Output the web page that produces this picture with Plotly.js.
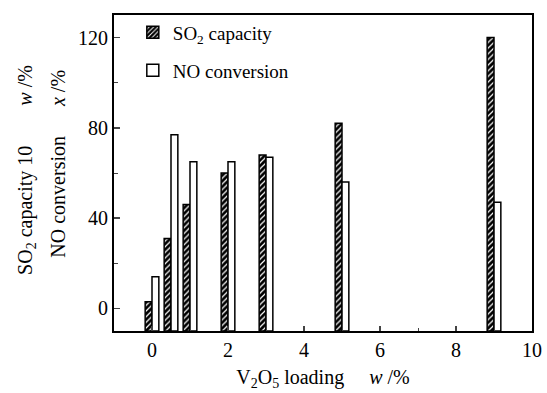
<!DOCTYPE html>
<html><head><meta charset="utf-8">
<script src="https://cdn.plot.ly/plotly-3.0.1.min.js"></script>
<style>body{margin:0;background:#fff}#c{width:547px;height:393px}</style>
</head><body><div id="c"></div>
<script>
const loading = [0, 0.5, 1, 2, 3, 5, 9];
const so2Capacity = [3, 31, 46, 60, 68, 82, 120];
const noConversion = [14, 77, 65, 65, 67, 56, 47];
const xTicks = [0, 2, 4, 6, 8, 10];
const yTicks = [0, 40, 80, 120];
const baseVal = -10;

const F = 'Liberation Serif, Times New Roman, serif';
const traces = [
  {type:'bar', x: loading, y: so2Capacity.map(v => v - baseVal), base: baseVal,
   name: 'SO<sub>2</sub> capacity', width: 0.18, offset: -0.18,
   marker: {color: 'black', line: {color: 'black', width: 1.5},
            pattern: {shape: '/', fgcolor: 'white', bgcolor: 'black', size: 4, solidity: 0.3}},
   legend: 'legend'},
  {type:'bar', x: loading, y: noConversion.map(v => v - baseVal), base: baseVal,
   name: 'NO conversion', width: 0.18, offset: 0,
   marker: {color: 'white', line: {color: 'black', width: 1.5}},
   legend: 'legend2'}
];
const layout = {
  width: 547, height: 393,
  margin: {l:114, r:15, t:15, b:62},
  paper_bgcolor: 'white', plot_bgcolor: 'white',
  font: {family: F, size: 20, color: 'black'},
  barmode: 'overlay',
  showlegend: true,
  legend: {x: 0.045, y: 1.005, xanchor: 'left', yanchor: 'top', bgcolor: 'rgba(0,0,0,0)',
           font: {family: F, size: 19}},
  legend2: {x: 0.045, y: 0.885, xanchor: 'left', yanchor: 'top', bgcolor: 'rgba(0,0,0,0)',
           font: {family: F, size: 19}},
  xaxis: {range: [-1, 10], tickvals: xTicks, ticks: 'inside', ticklen: 5, tickwidth: 1.5,
          minor: {dtick: 1, ticks: 'inside', ticklen: 3, tickwidth: 1},
          showline: true, linewidth: 2, linecolor: 'black', mirror: true,
          showgrid: false, zeroline: false, tickfont: {family: F, size: 20},
          title: {text: 'V<sub>2</sub>O<sub>5</sub> loading\u00a0\u00a0\u00a0\u00a0\u00a0<i>w</i> /%',
                  font: {family: F, size: 20}, standoff: 10}},
  yaxis: {range: [-10, 130], tickvals: yTicks, ticks: 'inside', ticklen: 6, tickwidth: 1.5,
          minor: {tickvals: [20, 60, 100], ticks: 'inside', ticklen: 4, tickwidth: 1},
          showline: true, linewidth: 2, linecolor: 'black', mirror: true,
          showgrid: false, zeroline: false, tickfont: {family: F, size: 20}},
  annotations: [
    {xref: 'paper', yref: 'paper', x: -0.208, y: 0.51, xanchor: 'center', yanchor: 'middle',
     textangle: -90, showarrow: false, font: {family: F, size: 20},
     text: 'SO<sub>2</sub> capacity 10\u00a0\u00a0\u00a0\u00a0\u00a0\u00a0\u00a0\u00a0<i>w</i> /%'},
    {xref: 'paper', yref: 'paper', x: -0.136, y: 0.53, xanchor: 'center', yanchor: 'middle',
     textangle: -90, showarrow: false, font: {family: F, size: 20},
     text: 'NO conversion\u00a0\u00a0\u00a0\u00a0\u00a0\u00a0<i>x</i> /%'}
  ]
};
Plotly.newPlot('c', traces, layout, {displayModeBar: false, staticPlot: true});
</script></body></html>
